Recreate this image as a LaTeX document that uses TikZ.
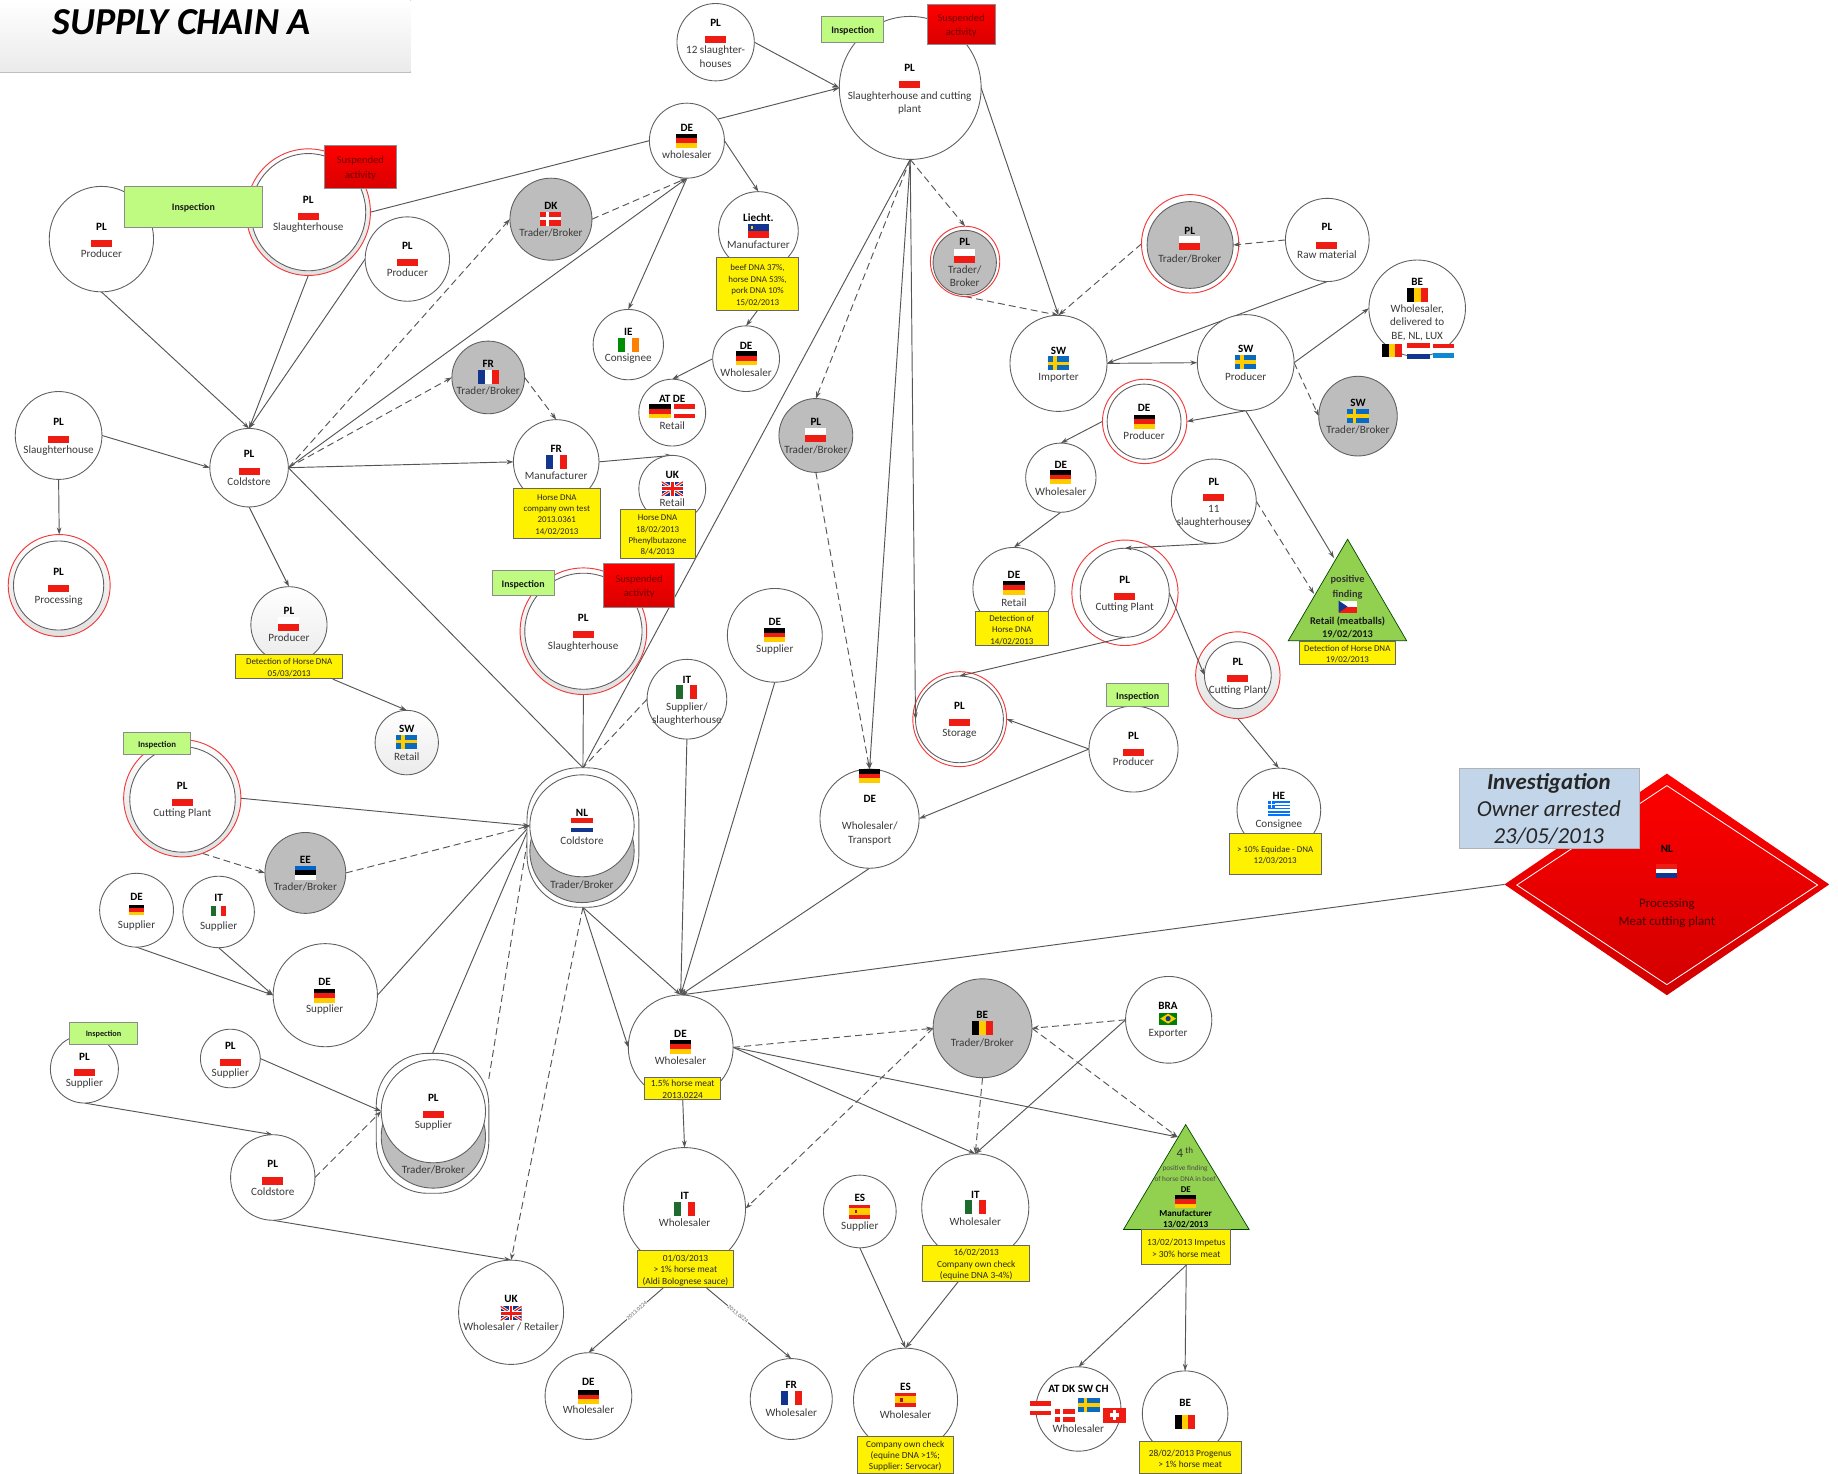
\documentclass[tikz,border=0pt]{standalone}
\usepackage{fontspec}
\setmainfont{Carlito}
\usetikzlibrary{shapes.geometric,arrows.meta}
\pgfdeclarelayer{edges}
\pgfsetlayers{edges,main}
\definecolor{ln}{HTML}{555555}
\definecolor{bd}{HTML}{5F5F5F}
\definecolor{gy}{HTML}{BDBDBD}
\definecolor{lb}{HTML}{3A3A3A}
\definecolor{ring}{HTML}{F23A3A}
\definecolor{insp}{HTML}{BFFB80}
\definecolor{tria}{HTML}{92D050}
\definecolor{inv}{HTML}{C3D5E8}
\definecolor{flR}{HTML}{EE1C12}
\definecolor{flB}{HTML}{12358F}
\definecolor{flY}{HTML}{FFCC00}
\definecolor{flG}{HTML}{1E6B2E}
\definecolor{flS}{HTML}{0A6ABF}
\tikzset{
  ent/.style={ellipse,draw=bd,fill=white,inner sep=0pt,outer sep=0pt,line width=.75pt},
  gray node/.style={fill=gy},
  ringo/.style={draw=ring,top color=white,bottom color=black!12,line width=.8pt},
  ringw/.style={draw=ring,line width=.8pt},
  conn/.style={draw=ln,line width=.8pt},
  ca/.style={conn,-{Stealth[length=6pt,width=4pt]}},
  cn/.style={conn},
  da/.style={conn,dash pattern=on 6pt off 3.5pt,-{Stealth[length=6pt,width=4pt]}},
  dn/.style={conn,dash pattern=on 6pt off 3.5pt},
  code/.style={font=\fontsize{9.5}{11.4}\selectfont\bfseries,inner sep=0pt,text=black,yshift=-1.2pt},
  lab/.style={font=\fontsize{9.5}{11.4}\selectfont,inner sep=0pt,text=lb,align=center,yshift=-1.2pt},
  ybox/.style={rectangle,draw=black!60,fill=yellow,inner sep=0pt,line width=.7pt},
  ytxt/.style={inner sep=0pt,align=center,text=black!85,yshift=-1pt},
  ibox/.style={rectangle,draw=black!45,fill=insp,inner sep=0pt,line width=.7pt},
  itxt/.style={inner sep=0pt,text=black!90,yshift=-1pt},
  sbox/.style={rectangle,draw=black!45,top color=red,bottom color=red!85!black,inner sep=0pt,line width=.7pt},
  stxt/.style={inner sep=0pt,align=center,text=red!45!black,yshift=-1pt},
}
\newcommand\EN[6][]{\node[ent,#1,minimum width={2*#5*1pt},minimum height={2*#6*1pt}] (#2) at (#3,#4) {};}
\newcommand\INFO[8]{%
  \begin{scope}[shift={(#2,#4)}]#6\end{scope}%
  \node[code] (#1-c) at (#2,#3) {\vphantom{Ag}#7};%
  \node[lab] (#1-l) at (#2,#5) {\vphantom{Ag}#8\vphantom{Ag}};}
\newcommand\YB[7][7.6]{\node[ybox,minimum width={(#5-#3)*1pt},minimum height={(#6-#4)*1pt}] (#2) at ({(#3+#5)/2},{(#4+#6)/2}) {};\node[ytxt,font=\fontsize{#1}{9.7}\selectfont] (#2-t) at ({(#3+#5)/2},{(#4+#6)/2}) {#7};}
\newcommand\IB[6][8.5]{\node[ibox,minimum width={(#5-#3)*1pt},minimum height={(#6-#4)*1pt}] (#2) at ({(#3+#5)/2},{(#4+#6)/2}) {};\node[itxt,font=\fontsize{#1}{10}\selectfont\bfseries] (#2-t) at ({(#3+#5)/2},{(#4+#6)/2}) {Inspection};}
\newcommand\SB[5]{\node[sbox,minimum width={(#4-#2)*1pt},minimum height={(#5-#3)*1pt}] (#1) at ({(#2+#4)/2},{(#3+#5)/2}) {};\node[stxt,font=\fontsize{9}{12}\selectfont] (#1-t) at ({(#2+#4)/2},{(#3+#5)/2}) {Suspended\\activity};}
\newcommand\fs[2]{\begin{scope}[scale=#1]#2\end{scope}}
\newcommand\fh[3]{\fill[#1] (-9,-6) rectangle (9,-2);\fill[#2] (-9,-2) rectangle (9,2);\fill[#3] (-9,2) rectangle (9,6);}
\newcommand\fv[3]{\fill[#1] (-9,-6) rectangle (-3,6);\fill[#2] (-3,-6) rectangle (3,6);\fill[#3] (3,-6) rectangle (9,6);}
\newcommand\PLf{\fill[white] (-9,-6) rectangle (9,0);\fill[flR] (-9,0) rectangle (9,6);}
\newcommand\DEf{\fh{black}{flR}{flY}}
\newcommand\FRf{\fv{flB}{white}{flR}}
\newcommand\ITf{\fv{flG}{white}{flR}}
\newcommand\NLf{\fh{flR}{white}{flB}}
\newcommand\BEf{\fv{black}{flY}{flR}}
\newcommand\IEf{\fv{green!55!black}{white}{orange}}
\newcommand\ATf{\fh{flR}{white}{flR}}
\newcommand\EEf{\fh{blue!50!cyan!80!black}{black}{white}}
\newcommand\LUf{\fh{flR}{white}{cyan!70!blue}}
\newcommand\SWf{\fill[flS] (-9,-6) rectangle (9,6);\fill[flY] (-4.5,-6) rectangle (-1.5,6);\fill[flY] (-9,-1.5) rectangle (9,1.5);}
\newcommand\DKf{\fill[flR] (-9,-6) rectangle (9,6);\fill[white] (-4.5,-6) rectangle (-2,6);\fill[white] (-9,-1.2) rectangle (9,1.2);}
\newcommand\ESf{\fill[flR] (-9,-6) rectangle (9,6);\fill[flY] (-9,-3) rectangle (9,3);\fill[flR!70!black] (-4.5,-1.5) rectangle (-2,1.5);}
\newcommand\GRf{\fill[white] (-9,-6) rectangle (9,6);\foreach \yy in {-6,-3.4,-.8,1.8,4.4}{\fill[blue!55!cyan] (-9,\yy) rectangle (9,\yy+1.3);}\fill[blue!55!cyan] (-9,-6) rectangle (-3,-.5);\fill[white] (-6.5,-6) rectangle (-5.5,-.5);\fill[white] (-9,-3.6) rectangle (-3,-2.8);}
\newcommand\BRf{\fill[green!50!black] (-9,-6) rectangle (9,6);\fill[flY] (-8,0)--(0,-5)--(8,0)--(0,5)--cycle;\fill[flB] (0,0) circle (2.6);}
\newcommand\LIf{\fill[flB] (-9,-6) rectangle (9,0);\fill[flR] (-9,0) rectangle (9,6);\fill[flY] (-6.5,-4.5) rectangle (-4.5,-2);}
\newcommand\CZf{\fill[white] (-9,-6) rectangle (9,0);\fill[flR] (-9,0) rectangle (9,6);\fill[flB] (-9,-6)--(0,0)--(-9,6)--cycle;}
\newcommand\CHf{\fill[flR] (-9,-6) rectangle (9,6);\fill[white] (-1.5,-4) rectangle (1.5,4);\fill[white] (-4,-1.5) rectangle (4,1.5);}
\newcommand\UKf{\begin{scope}\clip (-9,-6) rectangle (9,6);\fill[flB] (-9,-6) rectangle (9,6);\draw[white,line width=2.4pt] (-9,-6)--(9,6) (-9,6)--(9,-6);\draw[flR,line width=1pt] (-9,-6)--(9,6) (-9,6)--(9,-6);\fill[white] (-2,-6) rectangle (2,6);\fill[white] (-9,-2) rectangle (9,2);\fill[flR] (-1.2,-6) rectangle (1.2,6);\fill[flR] (-9,-1.2) rectangle (9,1.2);\end{scope}}
\begin{document}
\begin{tikzpicture}[x=1pt,y=-1pt]
\useasboundingbox (0,0) rectangle (1568,1257);
\begin{pgfonlayer}{edges}\fill[white] (0,0) rectangle (1568,1257);\end{pgfonlayer}
% title
\fill[black!25] (0,0) rectangle (351,62);
\node[rectangle,top color=white,bottom color=black!8,minimum width=350pt,minimum height=61pt,inner sep=0pt,outer sep=0pt] (titlebox) at (175,30.5) {};
\node[inner sep=0pt,font=\fontsize{32.5}{34}\selectfont\bfseries\itshape] (titletext) at (155,19) {SUPPLY CHAIN A};
% ---- upper left
\EN{prA}{86.5}{204}{44.5}{45}\INFO{prA}{86.5}{192.8}{204.5}{216}{\PLf}{PL}{Producer}
\EN[ringo]{shAo}{263}{181}{53}{54}\EN{shA}{263}{181}{49}{50}\INFO{shA}{263}{170}{181.5}{193}{\PLf}{PL}{Slaughterhouse}
\IB{inA}{106}{159}{224}{194}\SB{suA}{277}{124}{338}{161}
\EN{prB}{347.5}{221}{36}{36}\INFO{prB}{347.5}{209}{221}{232}{\PLf}{PL}{Producer}
\EN[gray node]{dk}{470}{187}{35}{35}\INFO{dk}{470}{175}{186.5}{198}{\DKf}{DK}{Trader/Broker}
\EN{wh}{586}{120}{32}{32}\INFO{wh}{586}{108.6}{120}{131.7}{\DEf}{DE}{wholesaler}
\EN{slt}{610.5}{36}{33}{33}\INFO{slt}{610.5}{19}{31}{47.8}{\PLf}{PL}{12 slaughter-\\houses}
\EN{big}{776.5}{75}{60.5}{61}\INFO{big}{776}{57.7}{69}{86.7}{\PLf}{PL}{Slaughterhouse and cutting\\plant}
\IB{inB}{701}{14}{754}{36}\SB{suB}{791}{4}{849}{38}
\EN{lie}{647}{197}{34}{33.5}\INFO{lie}{647}{185.4}{197}{208.5}{\LIf}{Liecht.}{Manufacturer}
\YB{liebx}{611.5}{220}{681}{264.5}{beef DNA 37\%,\\horse DNA 53\%,\\pork DNA 10\%\\15/02/2013}
\EN{ie}{536}{294}{30}{30}\INFO{ie}{536}{282.4}{294}{305}{\IEf}{IE}{Consignee}
\EN{wde}{636.5}{306}{28.5}{28}\INFO{wde}{636.5}{294.3}{305.7}{317.6}{\DEf}{DE}{Wholesaler}
\EN{atde}{573.5}{352}{28.5}{28.5}
\begin{scope}[shift={(563,351)}]\DEf\end{scope}\begin{scope}[shift={(584,351)}]\ATf\end{scope}
\node[code] (atde-c) at (573.5,340) {\vphantom{Ag}AT DE};\node[lab] (atde-l) at (573.5,363) {\vphantom{Ag}Retail};
\EN[gray node]{frt}{416.5}{322}{31}{31}\INFO{frt}{416.5}{310}{322}{333}{\FRf}{FR}{Trader/Broker}
\EN{frm}{474.5}{394}{36.5}{36}\INFO{frm}{474.5}{382.5}{394}{405.8}{\FRf}{FR}{Manufacturer}
\YB{frbx}{438}{417}{512}{459}{Horse DNA\\company own test\\2013.0361\\14/02/2013}
\EN{ukr}{573.5}{417}{28.5}{28.5}\INFO{ukr}{573.5}{405}{417}{428.7}{\UKf}{UK}{Retail}
\YB{ukbx}{529}{435}{593}{476}{Horse DNA\\18/02/2013\\Phenylbutazone\\8/4/2013}
\EN{slB}{50}{371.5}{37}{37.5}\INFO{slB}{50}{359.7}{372}{383}{\PLf}{PL}{Slaughterhouse}
\EN{cold}{212.5}{399}{33.5}{33.5}\INFO{cold}{212.5}{387}{399}{410.4}{\PLf}{PL}{Coldstore}
\EN[ringo]{procO}{50.5}{499.5}{43.5}{43.5}\EN{proc}{50}{499.5}{38.5}{38}\INFO{proc}{50}{487.7}{499}{511}{\PLf}{PL}{Processing}
\EN[top color=white,bottom color=black!8]{prC}{246.5}{533}{32.5}{32.5}\INFO{prC}{246.5}{520.4}{532}{543.6}{\PLf}{PL}{Producer}
\YB{prCbx}{201}{558}{292.5}{579}{Detection of Horse DNA\\05/03/2013}
\EN[top color=white,bottom color=black!8]{swr}{347}{633.5}{27}{27.5}\INFO{swr}{347}{621}{632.7}{645}{\SWf}{SW}{Retail}
% ---- mid
\EN[ringo]{shCo}{497.7}{538.5}{54}{54}\EN{shC}{497.7}{538.5}{50}{49.5}\INFO{shC}{497.5}{527}{538.5}{550}{\PLf}{PL}{Slaughterhouse}
\IB{inC}{420}{487}{472.6}{508}\SB{suC}{515}{481}{575.6}{518}
\EN{its}{586}{596.5}{34}{34}\INFO{its}{586}{579.3}{590.5}{608}{\ITf}{IT}{Supplier/\\slaughterhouse}
\EN{des}{661}{542}{40.5}{40}\INFO{des}{661}{530}{541.7}{553}{\DEf}{DE}{Supplier}
\EN[ringo]{cutO}{155.5}{681}{50}{50}\EN{cut}{155.7}{682}{45}{45}\INFO{cut}{155.5}{669.7}{681.5}{693}{\PLf}{PL}{Cutting Plant}
\IB[7.5]{inD}{105.5}{625}{162.5}{644}
\EN[gray node]{ee}{260.5}{744.7}{34.5}{34.5}\INFO{ee}{260.5}{733}{744.5}{756}{\EEf}{EE}{Trader/Broker}
\EN{desA}{116.5}{776.5}{31.5}{31.5}\INFO{desA}{116.5}{765}{776.3}{788}{\fs{.75}{\DEf}}{DE}{Supplier}
\EN{itsA}{186.5}{778}{30.5}{30.5}\INFO{itsA}{186.5}{766}{777}{789}{\fs{.7}{\ITf}}{IT}{Supplier}
\EN{desB}{277.5}{849}{44.5}{44}\INFO{desB}{277}{837.5}{849.4}{860}{\DEf}{DE}{Supplier}
% NL compound
\node[rectangle,draw=bd,fill=white,rounded corners=44pt,line width=.75pt,minimum width=95.4pt,minimum height=119pt,inner sep=0pt,outer sep=0pt] (nlo) at (497.3,714.5) {};
\EN[gray node]{nlg}{496.5}{726}{44.5}{44}\EN{nlc}{496.5}{704.5}{44.5}{43.5}
\INFO{nlc}{496.5}{693}{704}{716.6}{\NLf}{NL}{Coldstore}
\node[lab] (nlg-l) at (496.5,754) {\vphantom{Ag}Trader/Broker\vphantom{Ag}};
% PL supplier compound
\node[rectangle,draw=bd,fill=white,rounded corners=44pt,line width=.75pt,minimum width=96pt,minimum height=119.4pt,inner sep=0pt,outer sep=0pt] (pco) at (369,958.3) {};
\EN[gray node]{pcg}{369.7}{969.6}{44.5}{44}\EN{pci}{369.7}{948}{44.5}{44}
\INFO{pci}{369.7}{936}{947.5}{959}{\PLf}{PL}{Supplier}
\node[lab] (pcg-l) at (369.7,997.6) {\vphantom{Ag}Trader/Broker\vphantom{Ag}};
% lower left
\EN{supA}{72}{912}{29}{29}\INFO{supA}{72}{901}{912}{923.6}{\PLf}{PL}{Supplier}
\IB[7]{inE}{59.6}{872}{117}{890.7}
\EN{supB}{196.5}{903}{25.5}{25}\INFO{supB}{196.5}{891.5}{903}{914.7}{\PLf}{PL}{Supplier}
\EN{colB}{232.7}{1004.5}{36}{36.5}\INFO{colB}{232.7}{992.7}{1004.5}{1015.8}{\PLf}{PL}{Coldstore}
\EN{ukw}{436}{1119.5}{44.8}{44.5}\INFO{ukw}{436}{1108}{1120.4}{1131.3}{\UKf}{UK}{Wholesaler / Retailer}
\EN{wdeB}{502}{1191}{37}{37}\INFO{wdeB}{502}{1178.7}{1191.8}{1202}{\DEf}{DE}{Wholesaler}
\EN{wfr}{675}{1193.5}{35}{34.5}\INFO{wfr}{675}{1181}{1192.4}{1204.3}{\FRf}{FR}{Wholesaler}
\EN{wes}{772.5}{1194.5}{44.4}{44.4}\INFO{wes}{772.5}{1183}{1194.3}{1206.3}{\ESf}{ES}{Wholesaler}
\YB[8]{wesbx}{731.5}{1225}{813}{1257}{Company own check\\(equine DNA >1\%;\\Supplier: Servocar)}
\EN{ses}{733.5}{1033.5}{31}{31}\INFO{ses}{733.5}{1021.7}{1033.7}{1045}{\ESf}{ES}{Supplier}
\EN{wit}{832}{1030}{45.7}{45.7}\INFO{wit}{832}{1018.8}{1030}{1042}{\ITf}{IT}{Wholesaler}
\YB[8]{witbx}{787}{1062.7}{878.6}{1092.8}{16/02/2013\\Company own check\\(equine DNA 3-4\%)}
\EN{witB}{584}{1031}{52}{52}\INFO{witB}{584}{1020}{1031}{1042.7}{\ITf}{IT}{Wholesaler}
\YB[8]{witBbx}{544}{1067}{625.5}{1098.5}{01/03/2013\\> 1\% horse meat\\(Aldi Bolognese sauce)}
\EN{wdeC}{580.7}{893.5}{44.7}{44.7}\INFO{wdeC}{580.5}{881.4}{893}{904.3}{\DEf}{DE}{Wholesaler}
\YB[8]{wdeCbx}{550}{919}{614.8}{937.5}{1.5\% horse meat\\2013.0224}
\EN[gray node]{bet}{838.2}{877.2}{42.2}{42.2}\INFO{bet}{838}{865}{876.7}{888.7}{\BEf}{BE}{Trader/Broker}
\EN{bra}{997}{870}{36.8}{37}\INFO{bra}{996.5}{858}{869}{881}{\fs{.85}{\BRf}}{BRA}{Exporter}
% 4th triangle
\path[fill=tria,draw=black!55!green!60!black,line width=.6pt] (958.5,1048.8)--(1011.5,959.4)--(1065.6,1048.8)--cycle;
\coordinate (triF) at (1004.7,970);
\node[inner sep=0pt,font=\fontsize{11}{12}\selectfont,text=black!80] (triF-a) at (1011,983) {4\,\textsuperscript{th}};
\node[inner sep=0pt,font=\fontsize{6.2}{9.2}\selectfont,text=black!70,align=center] (triF-b) at (1011,1001) {positive finding\\of horse DNA in beef};
\begin{scope}[shift={(1011.5,1025.1)},yscale=.92]\DEf\end{scope}
\node[code,font=\fontsize{7.5}{9}\selectfont\bfseries] (triF-c) at (1011.5,1013.6) {DE};
\node[code,font=\fontsize{7.8}{9.6}\selectfont\bfseries,align=center] (triF-d) at (1011.5,1039) {Manufacturer\\13/02/2013};
\YB[8]{triFbx}{974}{1048.8}{1050}{1078.9}{13/02/2013 Impetus\\> 30\% horse meat}
\EN{adsc}{920}{1202}{36.3}{36}
\node[code] (adsc-c) at (920,1184.3) {\vphantom{Ag}AT DK SW CH};
\node[lab] (adsc-l) at (920,1218) {\vphantom{Ag}Wholesaler};
\begin{scope}[shift={(887.3,1201.5)}]\ATf\end{scope}\begin{scope}[shift={(908.5,1207.4)},scale=.95]\DKf\end{scope}\begin{scope}[shift={(929,1198.7)}]\SWf\end{scope}\begin{scope}[shift={(950.8,1207.3)},scale=1.05]\CHf\end{scope}
\EN{beb}{1011}{1206}{36.5}{36.5}
\node[code] (beb-c) at (1011,1196) {\vphantom{Ag}BE};
\begin{scope}[shift={(1011,1213)},scale=.95]\BEf\end{scope}
\YB[8]{bebbx}{972}{1230}{1058.7}{1257}{28/02/2013 Progenus\\> 1\% horse meat}
% diamond
\node[diamond,top color=red,bottom color=red!82!black,minimum width=277pt,minimum height=189pt,inner sep=0pt,outer sep=0pt] (dia) at (1422,754.5) {};
\draw[white,line width=.7pt] (1294,755)--(1422,670.2)--(1550.6,755)--(1422,840)--cycle;
\node[code,text=black] (dia-c) at (1422,723.6) {\vphantom{Ag}NL};
\begin{scope}[shift={(1422,743)}]\NLf\end{scope}
\node[lab,text=red!28!black,font=\fontsize{11}{15}\selectfont] (dia-l) at (1422,778) {Processing\\Meat cutting plant};
\node[rectangle,draw=black!30,fill=inv,inner sep=0pt,minimum width=153.4pt,minimum height=69pt] (invbox) at (1321.3,689.5) {};
\node[inner sep=0pt,align=center,font=\fontsize{19.5}{23}\selectfont\itshape,text=black!85,yshift=-1pt] (invtext) at (1321.3,689.5) {\textbf{Investigation}\\Owner arrested\\23/05/2013};
\EN{he}{1091}{691}{35.7}{35.7}\INFO{he}{1091}{678.6}{690}{702}{\fs{1.05}{\GRf}}{HE}{Consignee}
\YB{hebx}{1048.8}{711}{1127}{745.6}{> 10\% Equidae - DNA\\12/03/2013}
\EN{prD}{967}{639}{38}{36.7}\INFO{prD}{967}{627}{639}{649.7}{\PLf}{PL}{Producer}
\IB{inF}{944}{583}{997}{603}
\EN[ringw]{stoO}{818.7}{613.5}{40}{40.5}\EN{sto}{818.5}{613.7}{37.5}{37}\INFO{sto}{818.5}{602}{613.5}{625}{\PLf}{PL}{Storage}
\EN{tra}{741.8}{698.4}{42.3}{42.3}
\begin{scope}[shift={(742,662)}]\DEf\end{scope}
\node[code] (tra-c) at (742,681) {\vphantom{Ag}DE};
\node[lab] (tra-l) at (742,710) {\vphantom{Ag}Wholesaler/\\Transport\vphantom{Ag}};
\EN[gray node]{ptb}{696}{371.5}{31.5}{31.5}\INFO{ptb}{696}{359.7}{371}{383}{\PLf}{PL}{Trader/Broker}
\EN[ringw]{ptcO}{823.3}{223}{29.6}{30}\EN[gray node]{ptc}{823}{224}{27}{27.5}\INFO{ptc}{823}{206}{218}{235}{\PLf}{PL}{Trader/\\Broker}
\EN{imp}{903}{310}{41.4}{41}\INFO{imp}{903}{298.6}{310}{321.3}{\SWf}{SW}{Importer}
\EN{swp}{1062.7}{309.4}{41.3}{41}\INFO{swp}{1062.7}{297}{309}{320.5}{\SWf}{SW}{Producer}
\EN[ringw]{ptdO}{1015.3}{208}{41.5}{42}\EN[gray node]{ptd}{1015.3}{209}{36.7}{37}\INFO{ptd}{1015}{197}{207.7}{220}{\PLf}{PL}{Trader/Broker}
\EN{raw}{1132.3}{204.7}{35.7}{35.5}\INFO{raw}{1132}{193.4}{206.5}{216.7}{\PLf}{PL}{Raw material}
\EN{bew}{1209}{263}{41.2}{41.2}\INFO{bew}{1209}{239.7}{251.4}{274.4}{\BEf}{BE}{Wholesaler,\\delivered to\\BE, NL, LUX}
\begin{scope}[shift={(1187.5,299.2)},scale=.95]\BEf\end{scope}\begin{scope}[shift={(1210,299.5)},scale=1.1]\NLf\end{scope}\begin{scope}[shift={(1231.5,299.2)}]\LUf\end{scope}
\EN[gray node]{swt}{1158.5}{355}{33.5}{34}\INFO{swt}{1158.5}{343}{355}{366}{\SWf}{SW}{Trader/Broker}
\EN[ringw]{depO}{976.5}{359.5}{36}{36}\EN{dep}{976}{359.7}{31.5}{32}\INFO{dep}{976}{347.8}{359.7}{371}{\DEf}{DE}{Producer}
\EN{dew}{905}{407.5}{30}{29.5}\INFO{dew}{905}{395.8}{407}{418.9}{\DEf}{DE}{Wholesaler}
\EN{sel}{1035.5}{427.6}{36.2}{36}\INFO{sel}{1035.5}{410.4}{421.5}{439.4}{\PLf}{PL}{11\\slaughterhouses}
\EN{ret}{865}{502}{35}{35}\INFO{ret}{865}{490}{501.3}{513.3}{\DEf}{DE}{Retail}
\YB{retbx}{832.3}{521.8}{894}{551}{Detection of\\Horse DNA\\14/02/2013}
\EN[ringw]{cpaO}{959.7}{505.7}{45.3}{45}\EN{cpa}{959.5}{505.7}{38}{38}\INFO{cpa}{959.5}{494.3}{506}{517.5}{\PLf}{PL}{Cutting Plant}
\EN[ringo]{cpbO}{1056}{576}{36}{37}\EN{cpb}{1056}{576}{28.5}{28.5}\INFO{cpb}{1056}{564.5}{576}{587.8}{\PLf}{PL}{Cutting Plant}
% positive triangle
\path[fill=tria,draw=black!55!green!60!black,line width=.6pt] (1099,546.6)--(1149.6,460)--(1200,546.6)--cycle;
\coordinate (triA) at (1138,476);\coordinate (triB) at (1121,506.7);
\node[inner sep=0pt,font=\fontsize{8.8}{12}\selectfont\bfseries,text=black!80,align=center,yshift=-1pt] (triA-a) at (1149.6,500) {positive\\finding};
\begin{scope}[shift={(1149.6,517.5)},scale=.85]\CZf\end{scope}
\node[inner sep=0pt,font=\fontsize{8.8}{11.3}\selectfont\bfseries,text=black!90,align=center,yshift=-1pt] (triA-b) at (1149.6,534.5) {Retail (meatballs)\\19/02/2013};
\YB{triAbx}{1108.2}{547}{1190.5}{566.7}{Detection of Horse DNA\\19/02/2013}
% ---- connectors that end on an inner ring stay on top of the ring
\draw[ca] (cutO.east)--(nlc.west);
\draw[da] (ee.east)--(nlc.west);
\draw[ca] (supB.east)--(pci.west);
\draw[da] (colB.east)--(pci.west);
\draw[ca] (big.south)--(sto.west);
\draw[da] (raw.west)--(ptd.east);
\draw[ca] (sel.south)--(cpa.north);
\draw[ca] (cpa.east)--(cpb.west);
\draw[ca] (cpa.south)--(sto.north);
% ---- connectors
\begin{pgfonlayer}{edges}
\draw[ca] (prA.south)--(cold.north);
\draw[ca] (shAo.south)--(cold.north);
\draw[ca] (prB.west)--(cold.north);
\draw[cn] (shAo.east)--(wh.west);
\draw[ca] (wh.35)--(big.west);
\draw[ca] (slt.east)--(big.west);
\draw[da] (cold.east)--(dk.west);
\draw[da] (cold.east)--(frt.west);
\draw[ca] (cold.east)--(wh.south);
\draw[da] (dk.east)--(wh.south);
\draw[ca] (cold.east)--(frm.west);
\draw[da] (frt.east)--(frm.north);
\draw[ca] (frm.east)--(ukr.north);
\draw[ca] (wh.east)--(lie.north);
\draw[ca] (wh.south)--(ie.north);
\draw[ca] (liebx.south)--(wde.north);
\draw[ca] (wde.west)--(atde.north);
\draw[ca] (slB.east)--(cold.west);
\draw[ca] (slB.south)--(procO.north);
\draw[ca] (cold.south)--(prC.north);
\draw[ca] ([xshift=-9pt]prCbx.south east)--(swr.north);
\draw[cn] (cold.east)--(nlo.north);
\draw[cn] (shCo.south)--(nlo.north);
\draw[cn] (big.south)--(nlo.north);
\draw[dn] (its.west)--(nlo.north);
\draw[da] (cutO.290)--(ee.west);
\draw[ca] (desA.south)--(desB.west);
\draw[ca] (itsA.south)--(desB.west);
\draw[cn] (desB.east)--(nlc.west);
\draw[cn] (pco.north)--(nlc.west);
\draw[dn] ([yshift=38pt]pco.east)--(nlc.west);
\draw[da] (nlo.south)--(ukw.north);
\draw[ca] (nlo.south)--(wdeC.west);
\draw[ca] (nlo.south)--(wdeC.north);
\draw[ca] (its.south)--(wdeC.north);
\draw[ca] (des.south)--(wdeC.north);
\draw[ca] (tra.south)--(wdeC.north);
\draw[ca] (dia.west)--(wdeC.north);
\draw[ca] (big.south)--(tra.north);
\draw[da] (big.south)--(ptb.north);
\draw[da] (ptb.south)--(tra.north);
\draw[da] (big.south)--(ptcO.north);
\draw[ca] (big.east)--(imp.north);
\draw[da] (ptcO.south)--(imp.north);
\draw[da] (ptdO.west)--(imp.north);
\draw[ca] (raw.south)--(imp.east);
\draw[ca] (imp.east)--(swp.west);
\draw[ca] (swp.east)--(bew.west);
\draw[da] (swp.east)--(swt.west);
\draw[ca] (swp.south)--(depO.east);
\draw[ca] (depO.west)--(dew.north);
\draw[ca] (dew.south)--(ret.north);
\draw[ca] (swp.south)--(triA);
\draw[da] (sel.east)--(triB);
\draw[ca] (prD.west)--(stoO.east);
\draw[ca] (prD.west)--(tra.east);
\draw[ca] (cpbO.south)--(he.north);
\draw[ca] (wdeCbx.south)--(witB.north);
\draw[da] (wdeC.east)--(bet.west);
\draw[ca] (wdeC.east)--(wit.north);
\draw[ca] (wdeC.east)--(triF);
\draw[da] (bet.south)--(wit.north);
\draw[da] (bet.west)--(witB.east);
\draw[da] (bra.west)--(bet.east);
\draw[ca] (bra.west)--(wit.north);
\draw[da] (bet.east)--(triF);
\draw[ca] (triFbx.south)--(beb.north);
\draw[ca] (triFbx.south)--(adsc.north);
\draw[ca] ([xshift=22pt]witBbx.south west)--node[pos=.35,sloped,fill=white,inner sep=.4pt,font=\fontsize{5}{6}\selectfont,text=black!60]{2013.0224}(wdeB.north);
\draw[ca] ([xshift=-23pt]witBbx.south east)--node[pos=.37,sloped,fill=white,inner sep=.4pt,font=\fontsize{5}{6}\selectfont,text=black!60]{2013.0224}(wfr.north);
\draw[ca] (ses.south)--(wes.north);
\draw[ca] ([xshift=31pt]witbx.south west)--(wes.north);
\draw[ca] (supA.south)--(colB.north);
\draw[ca] (colB.south)--(ukw.north);
\end{pgfonlayer}
\end{tikzpicture}
\end{document}
